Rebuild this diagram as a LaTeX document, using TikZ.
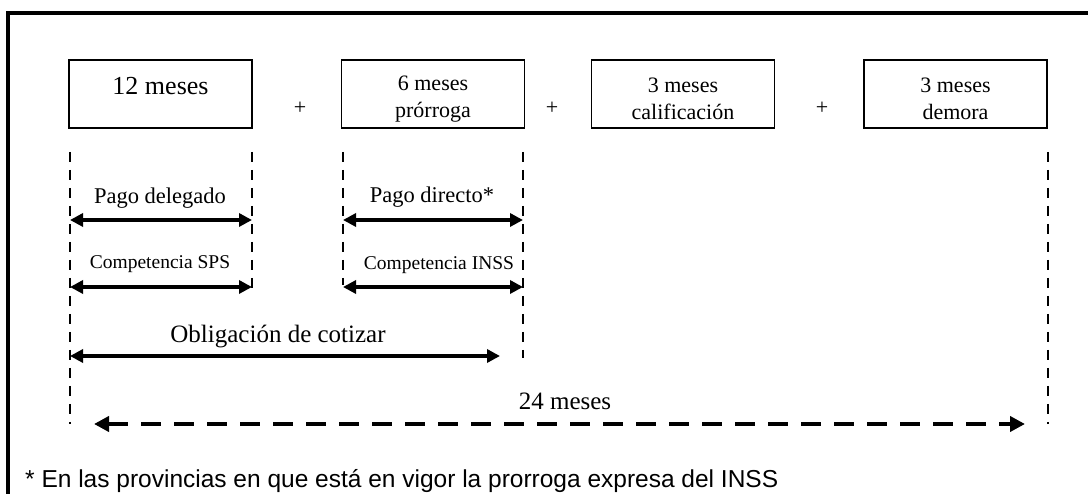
\documentclass[tikz,border=0pt]{standalone}
\usepackage{fontspec}
\setmainfont{Liberation Serif}
\newfontfamily\notafont{Liberation Sans}
\usetikzlibrary{arrows.meta}
\usetikzlibrary{calc}

\newcommand{\alto}{\rule{0pt}{25pt}}

\tikzset{
	caja/.style={draw, line width=1.8pt, minimum width=183pt, minimum height=68pt, inner sep=0pt, align=center, font=\fontsize{22}{27}\selectfont},
	mas/.style={inner sep=0pt, font=\fontsize{22}{26}\selectfont},
	guia/.style={line width=1.4pt, dash pattern=on 10pt off 8pt},
	flecha/.style={line width=4pt, {Triangle[length=13pt,width=13pt]}-{Triangle[length=13pt,width=13pt]}},
	flechadas/.style={line width=4pt, dash pattern=on 20pt off 13pt, {Triangle[length=15pt,width=15pt]}-{Triangle[length=15pt,width=15pt]}},
	etq/.style={inner sep=0pt, anchor=base, font=\fontsize{22.5}{26}\selectfont},
	etqs/.style={inner sep=0pt, anchor=base, font=\fontsize{19.5}{23}\selectfont},
	etqg/.style={inner sep=0pt, anchor=base, font=\fontsize{25}{29}\selectfont},
}

\begin{document}
\begin{tikzpicture}[x=1pt,y=-1pt]
				% page and frame
				\useasboundingbox (0,0) rectangle (1088,494);
				\clip (0,0) rectangle (1088,494);
				\draw[line width=4pt] (8,530) -- (8,13) -- (1130,13);
				% periods
				\node[caja, font=\fontsize{26}{30}\selectfont, text depth=17pt] (doce) at (160.5,94) {12 meses};
				\node[caja] (seis) at (433,94) {\alto6 meses\\prórroga};
				\node[caja] (calif) at (683,94) {\alto3 meses\\calificación};
				\node[caja] (demora) at (955.5,94) {\alto3 meses\\demora};
				\node[mas] (mas1) at (300,108) {+};
				\node[mas] (mas2) at (552,108) {+};
				\node[mas] (mas3) at (822,108) {+};
				% guide lines
				\coordinate (g1) at (70,152);
				\coordinate (g2) at (252,152);
				\coordinate (g3) at (343,152);
				\coordinate (g4) at (523,152);
				\coordinate (g5) at (1048,152);
				\coordinate (r1) at (0,220);
				\coordinate (r2) at (0,287);
				\coordinate (r3) at (0,356);
				\coordinate (r4) at (0,424);
				\draw[guia] (g1) -- (g1 |- r4);
				\draw[guia] (g2) -- ($(g2 |- r2)+(0,3)$);
				\draw[guia] (g3) -- ($(g3 |- r2)+(0,-2)$);
				\draw[guia] (g4) -- ($(g4 |- r3)+(0,2)$);
				\draw[guia] (g5) -- (g5 |- r4);
				% spans
				\node[etq] (pdel) at (160,204) {Pago delegado};
				\draw[flecha] (g1 |- r1) -- (g2 |- r1);
				\node[etq] (pdir) at (432,203) {Pago directo*};
				\draw[flecha] (g3 |- r1) -- (g4 |- r1);
				\node[etqs] (csps) at (160,269) {Competencia SPS};
				\draw[flecha] (g1 |- r2) -- (g2 |- r2);
				\node[etqs] (cinss) at (439,270) {Competencia INSS};
				\draw[flecha] (g3 |- r2) -- (g4 |- r2);
				\node[etqg] (oblig) at (278,343) {Obligación de cotizar};
				\coordinate (fin) at (500,356);
				\draw[flecha] (g1 |- r3) -- (fin);
				\node[etqg] (total) at (565,410) {24 meses};
				\coordinate (t0) at (94,424);
				\coordinate (t1) at (1025,424);
				\draw[flechadas] (t0) -- (t1);
				% footnote
				\node[inner sep=0pt, anchor=base west, font=\notafont\fontsize{24.5}{28}\selectfont] (nota) at (25,487) {* En las provincias en que está en vigor la prorroga expresa del INSS};
			\end{tikzpicture}
\end{document}
